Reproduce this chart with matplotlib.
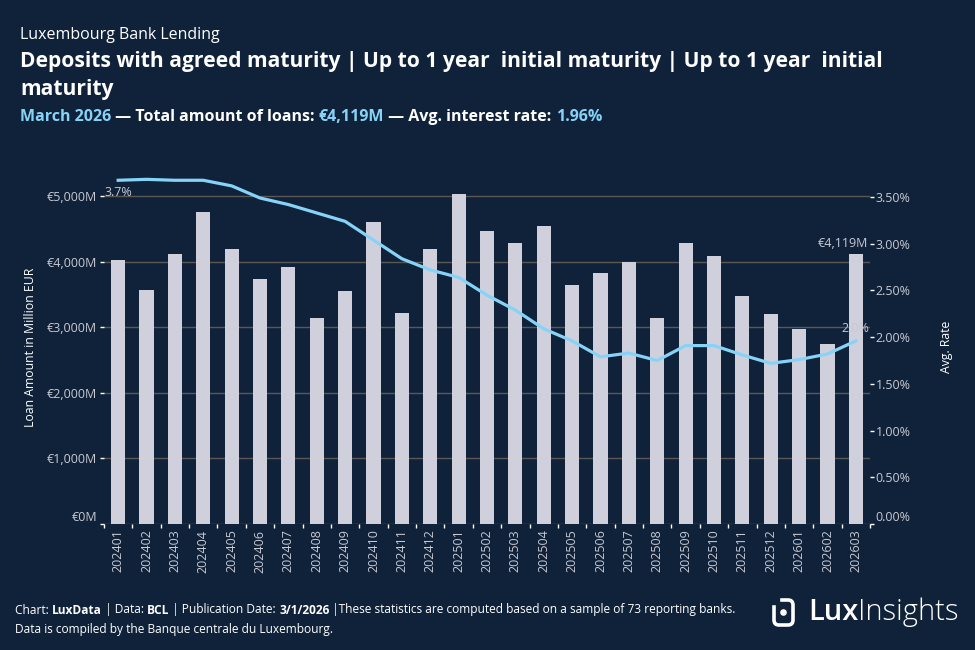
import matplotlib
matplotlib.use('Agg')
import matplotlib.pyplot as plt
from matplotlib.patches import FancyBboxPatch, Circle, Rectangle
from matplotlib.ticker import FixedLocator

plt.rcParams['font.family'] = ['Open Sans', 'DejaVu Sans']

# data
months = ['202401', '202402', '202403', '202404', '202405', '202406', '202407',
          '202408', '202409', '202410', '202411', '202412', '202501', '202502',
          '202503', '202504', '202505', '202506', '202507', '202508', '202509',
          '202510', '202511', '202512', '202601', '202602', '202603']
amounts = [4030, 3570, 4120, 4760, 4200, 3740, 3920, 3145, 3555, 4610, 3220, 4200,
           5040, 4470, 4290, 4550, 3650, 3830, 4000, 3145, 4290, 4090, 3480, 3205,
           2975, 2745, 4119]
rates = [3.68, 3.69, 3.68, 3.68, 3.62, 3.49, 3.42, 3.33, 3.24, 3.04, 2.84, 2.72,
         2.64, 2.45, 2.29, 2.09, 1.96, 1.79, 1.83, 1.75, 1.91, 1.91, 1.81, 1.72,
         1.76, 1.82, 1.96]
left_ticks = [0, 1000, 2000, 3000, 4000, 5000]
right_ticks = [0, 0.5, 1.0, 1.5, 2.0, 2.5, 3.0, 3.5]

BG = '#0f2239'
BAR = '#d0d0dc'
LINE = '#87d3f8'
GRID = '#5b5853'
TXT = '#c9c9d3'

fig = plt.figure(figsize=(9.75, 6.5), dpi=100, facecolor=BG)
ax = fig.add_axes([104 / 975, 1 - 524 / 650, 766 / 975, 354 / 650])
ax.set_facecolor(BG)
x = list(range(len(months)))

ax.bar(x, amounts, width=0.5, color=BAR, zorder=2)
ax.set_xlim(-0.5, len(months) - 0.5)
ax.set_ylim(0, 5404)
ax.set_yticks(left_ticks)
ax.set_yticklabels(['€{:,}M'.format(v) for v in left_ticks])
ax.yaxis.grid(True, color=GRID, linewidth=1, zorder=0)
ax.set_axisbelow(True)
ax.set_xticks(x)
ax.set_xticklabels(months, rotation=90)
ax.xaxis.set_minor_locator(FixedLocator([i - 0.5 for i in range(len(months) + 1)]))
ax.tick_params(axis='x', which='major', length=0, pad=4, labelsize=9, labelcolor=TXT)
ax.tick_params(axis='x', which='minor', length=3, width=1, color='white')
ax.tick_params(axis='y', length=3, width=1, color='white', pad=2, labelsize=9,
               labelcolor=TXT)
ax.get_yticklabels()[0].set_va('bottom')
for s in ax.spines.values():
    s.set_visible(False)
ax.set_ylabel('Loan Amount in Million EUR', color='white', fontsize=8.8, labelpad=7)

ax2 = ax.twinx()
ax2.plot(x, rates, color=LINE, linewidth=2.3, zorder=3)
ax2.set_ylim(0, 3.79)
ax2.set_yticks(right_ticks)
ax2.set_yticklabels(['{:.2f}%'.format(v) for v in right_ticks])
ax2.tick_params(axis='y', length=3, width=1, color='white', pad=1, labelsize=9,
                labelcolor=TXT)
ax2.get_yticklabels()[0].set_va('bottom')
for s in ax2.spines.values():
    s.set_visible(False)
ax2.set_ylabel('Avg. Rate', color='white', fontsize=8.8, labelpad=21)

ax2.annotate('{:.1f}%'.format(rates[0]), (0, rates[0]), xytext=(0, -9),
             textcoords='offset points', ha='center', va='center', fontsize=9,
             color=TXT)
ax2.annotate('{:.1f}%'.format(rates[-1]), (x[-1], rates[-1]), xytext=(0, 9),
             textcoords='offset points', ha='center', va='center', fontsize=9,
             color=TXT)
ax.annotate('€{:,}M'.format(amounts[-1]), (x[-1], amounts[-1]), xytext=(9, 8),
            textcoords='offset points', ha='right', va='center', fontsize=9,
            color=TXT)

# header
fig.text(20 / 975, 1 - 35 / 650, 'Luxembourg Bank Lending', color='white',
         fontsize=11.5, va='center')
fig.text(20 / 975, 1 - 61 / 650,
         'Deposits with agreed maturity | Up to 1 year  initial maturity | Up to 1 year  initial',
         color='white', fontsize=15.1, fontweight='bold', va='center')
fig.text(20 / 975, 1 - 89 / 650, 'maturity', color='white', fontsize=15.1,
         fontweight='bold', va='center')

renderer = fig.canvas.get_renderer()


def run_text(x0, y0, parts, size):
    # draw pieces one after another on the same line
    for s, col, wt in parts:
        t = fig.text(x0, y0, s, color=col, fontsize=size, fontweight=wt, va='center')
        bb = t.get_window_extent(renderer=renderer)
        x0 += bb.width / fig.bbox.width


run_text(20 / 975, 1 - 117 / 650, [
    ('March 2026', LINE, 'bold'),
    (' — Total amount of loans: ', 'white', 'bold'),
    ('€4,119M', LINE, 'bold'),
    (' — Avg. interest rate: ', 'white', 'bold'),
    ('1.96%', LINE, 'bold'),
], 11.5)

run_text(15 / 975, 1 - 610 / 650, [
    ('Chart: ', 'white', 'normal'),
    ('LuxData', 'white', 'bold'),
    (' | Data: ', 'white', 'normal'),
    ('BCL', 'white', 'bold'),
    (' | Publication Date: ', 'white', 'normal'),
    ('3/1/2026', 'white', 'bold'),
    (' |These statistics are computed based on a sample of 73 reporting banks.', 'white', 'normal'),
], 8.6)
fig.text(15 / 975, 1 - 630 / 650, 'Data is compiled by the Banque centrale du Luxembourg.',
         color='white', fontsize=8.6, va='center')

# logo
lax = fig.add_axes([0, 0, 1, 1], facecolor='none')
lax.set_xlim(0, 975)
lax.set_ylim(650, 0)
lax.axis('off')
lax.add_patch(FancyBboxPatch((774, 600), 19, 25, boxstyle='round,pad=0,rounding_size=5',
                             fill=False, edgecolor='white', linewidth=2.6))
lax.add_patch(Rectangle((771, 596), 8, 8, color=BG))
lax.add_patch(Circle((783.5, 612.5), 2.6, color='white'))
t = lax.text(808, 612, 'Lux', color='white', fontsize=21, fontweight='semibold',
             va='center')
bb = t.get_window_extent(renderer=renderer)
lax.text(808 + bb.width, 612, 'Insights', color='white', fontsize=21,
         fontweight='light', va='center')

fig.savefig('out.png', dpi=100, facecolor=BG)
